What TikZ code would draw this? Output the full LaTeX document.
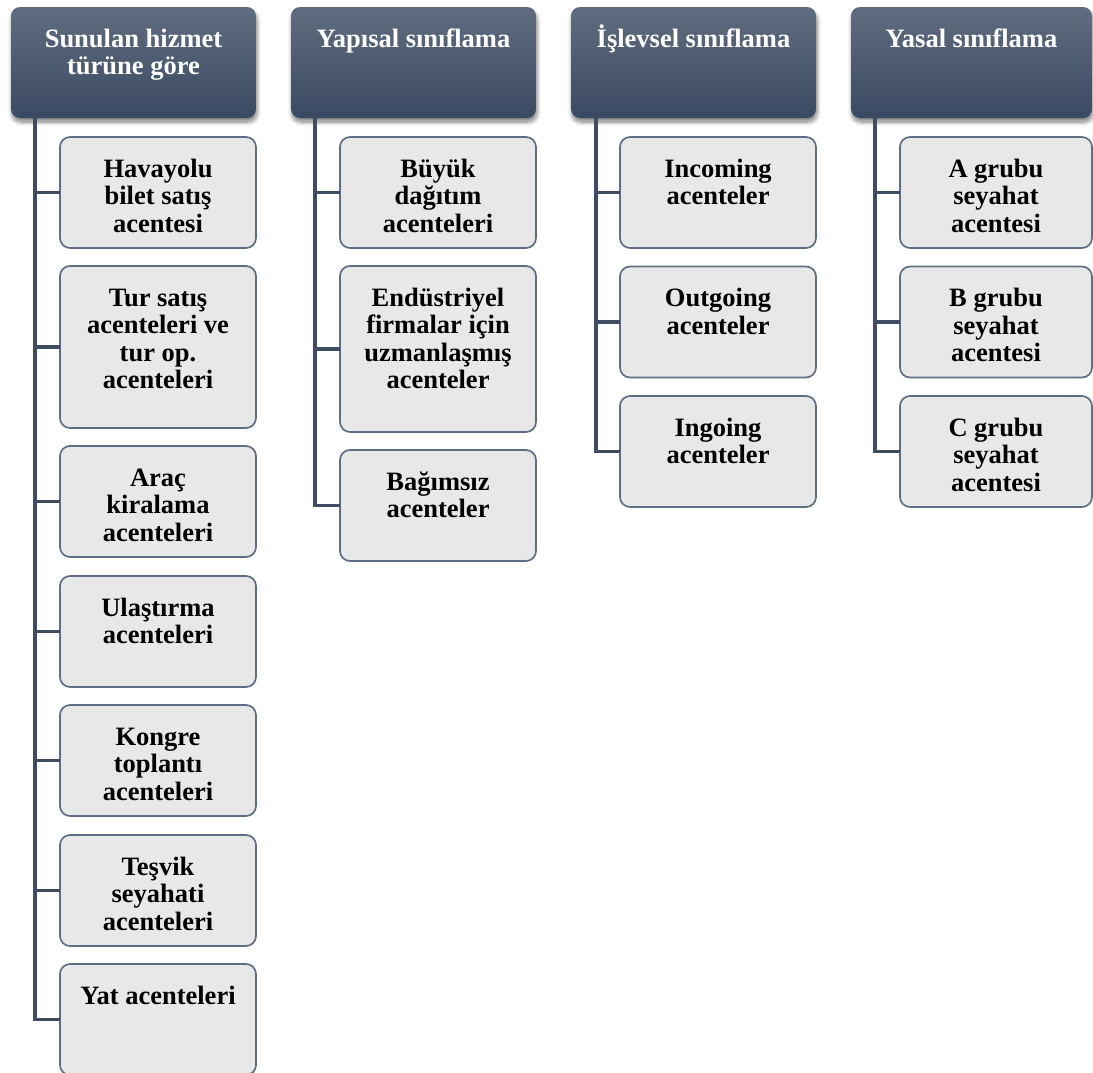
\documentclass[tikz,border=0pt]{standalone}
\usepackage{fontspec}
\setmainfont{Liberation Serif}[Ligatures=CommonOff]
\usetikzlibrary{shadows.blur}

\definecolor{hdrtop}{HTML}{606C7F}
\definecolor{hdrbot}{HTML}{3B4A63}
\definecolor{trunkc}{HTML}{3E4C64}
\definecolor{subline}{HTML}{5E6E86}
\definecolor{subfill}{HTML}{E8E8E8}

% fixed-size boxes with the text set from the top
\newcommand\htxt[2][245pt]{\parbox[c][111pt][t]{#1}{\centering\rule{0pt}{40pt}#2\par}}
\newcommand\stxt[3][196pt]{\parbox[c][#2][t]{#1}{\centering\rule{0pt}{40pt}#3\par}}

\begin{document}
\begin{tikzpicture}[x=1pt,y=-1pt,
  every node/.style={inner sep=0pt, outer sep=0pt, anchor=north west},
  hdr/.style={rounded corners=9pt, top color=hdrtop, bottom color=hdrbot,
    text=white, font=\fontsize{26.5}{27.5}\selectfont\bfseries,
    blur shadow={shadow xshift=1pt, shadow yshift=-4pt, shadow opacity=50,
      shadow blur steps=10, shadow blur radius=4pt}},
  sub/.style={rounded corners=10pt, draw=subline, line width=1.7pt, fill=subfill,
    text=black, font=\fontsize{26.5}{27.5}\selectfont\bfseries},
  trunk/.style={draw=trunkc, line width=3.4pt}]

\useasboundingbox (0,0) rectangle (1093,1072);

% column headers
\node[hdr] (h1) at (11,7)  {\htxt{Sunulan hizmet\\türüne göre}};
\node[hdr] (h2) at (291,7) {\htxt{Yapısal sınıflama}};
\node[hdr] (h3) at (571,7) {\htxt{İşlevsel sınıflama}};
\node[hdr] (h4) at (851,7) {\htxt[241pt]{Yasal sınıflama}};

% column 1
\node[sub] (a1) at (60,137) {\stxt{111pt}{Havayolu\\bilet satış\\acentesi}};
\node[sub] (a2) at (60,266) {\stxt{162pt}{Tur satış\\acenteleri ve\\tur op.\\acenteleri}};
\node[sub] (a3) at (60,446) {\stxt{111pt}{Araç\\kiralama\\acenteleri}};
\node[sub] (a4) at (60,576) {\stxt{111pt}{Ulaştırma\\acenteleri}};
\node[sub] (a5) at (60,705) {\stxt{111pt}{Kongre\\toplantı\\acenteleri}};
\node[sub] (a6) at (60,835) {\stxt{111pt}{Teşvik\\seyahati\\acenteleri}};
\node[sub] (a7) at (60,964) {\stxt{111pt}{Yat acenteleri}};

% column 2
\node[sub] (b1) at (340,137) {\stxt{111pt}{Büyük\\dağıtım\\acenteleri}};
\node[sub] (b2) at (340,266) {\stxt{166pt}{Endüstriyel\\firmalar için\\uzmanlaşmış\\acenteler}};
\node[sub] (b3) at (340,450) {\stxt{111pt}{Bağımsız\\acenteler}};

% column 3
\node[sub] (c1) at (620,137) {\stxt{111pt}{Incoming\\acenteler}};
\node[sub] (c2) at (620,266.5) {\stxt{111pt}{Outgoing\\acenteler}};
\node[sub] (c3) at (620,396) {\stxt{111pt}{Ingoing\\acenteler}};

% column 4
\node[sub] (d1) at (900,137) {\stxt[192pt]{111pt}{A grubu\\seyahat\\acentesi}};
\node[sub] (d2) at (900,266.5) {\stxt[192pt]{111pt}{B grubu\\seyahat\\acentesi}};
\node[sub] (d3) at (900,396) {\stxt[192pt]{111pt}{C grubu\\seyahat\\acentesi}};

% tree connectors
\foreach \c in {a1,a2,a3,a4,a5,a6,a7}
  \draw[trunk] ([xshift=24pt]h1.south west) |- (\c.west);
\foreach \c in {b1,b2,b3}
  \draw[trunk] ([xshift=24pt]h2.south west) |- (\c.west);
\foreach \c in {c1,c2,c3}
  \draw[trunk] ([xshift=25pt]h3.south west) |- (\c.west);
\foreach \c in {d1,d2,d3}
  \draw[trunk] ([xshift=24pt]h4.south west) |- (\c.west);
\end{tikzpicture}
\end{document}
